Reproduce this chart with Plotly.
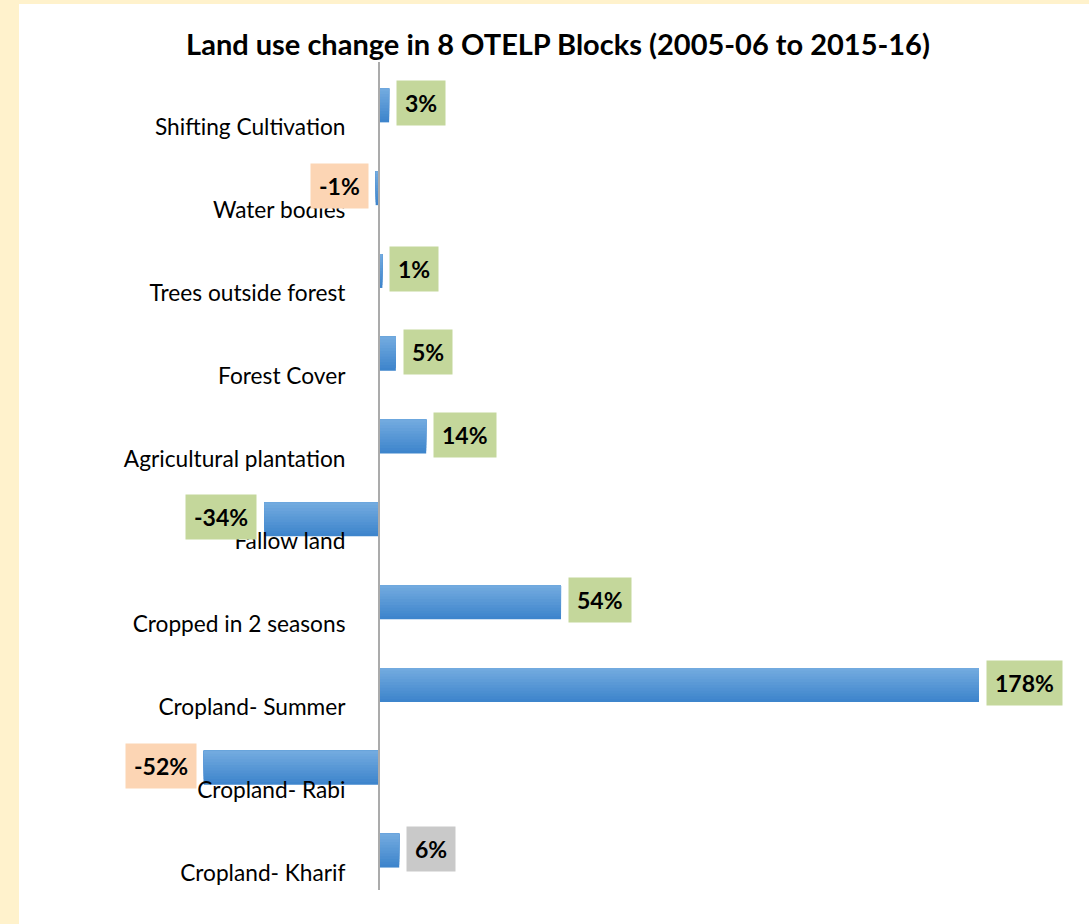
import plotly.graph_objects as go

# Data (bottom to top, as in the reference)
categories = ["Cropland- Kharif", "Cropland- Rabi", "Cropland- Summer",
              "Cropped in 2 seasons", "Fallow land", "Agricultural plantation",
              "Forest Cover", "Trees outside forest", "Water bodies",
              "Shifting Cultivation"]
values = [6, -52, 178, 54, -34, 14, 5, 1, -1, 3]
label_colors = ["#C9C9C9", "#FCD5B4", "#C4D79B", "#C4D79B", "#C4D79B",
                "#C4D79B", "#C4D79B", "#C4D79B", "#FCD5B4", "#C4D79B"]
title_text = "Land use change in 8 OTELP Blocks (2005-06 to 2015-16)"

FONT = "Lato, 'Open Sans', sans-serif"

W, H = 1089, 924
ml, mr, mt, mb = 109, 19, 62, 34
xmin, xmax = -80.1, 205.0

fig = go.Figure()

# bars with a vertical gradient: overlapping layers, darkest/full first,
# progressively shorter (top-aligned) and lighter ones on top
n = 12
bw = 0.41
shift = -0.024
top = (114, 170, 223)
bot = (62, 133, 204)
for j in range(n):
    frac = (n - j) / n
    t = (n - 1 - j) / (n - 1)
    c = tuple(round(top[i] + (bot[i] - top[i]) * t) for i in range(3))
    fig.add_trace(go.Bar(
        y=categories, x=values, orientation="h",
        width=bw * frac, offset=bw / 2 - bw * frac + shift,
        marker=dict(color="rgb(%d,%d,%d)" % c, line=dict(width=0)),
        showlegend=False, hoverinfo="skip"))

for cat, v, col in zip(categories, values, label_colors):
    fig.add_annotation(
        x=v, y=cat, xref="x", yref="y",
        text="<b>%d%%</b>" % v, showarrow=False,
        xanchor="left" if v >= 0 else "right",
        xshift=7 if v >= 0 else -7, yanchor="middle",
        bgcolor=col, borderpad=8,
        font=dict(family=FONT, size=23, color="black"))

# white chart area over cream frame
pw = W - ml - mr
ph = H - mt - mb
fig.add_shape(type="rect", xref="paper", yref="paper",
              x0=(19 - ml) / pw, x1=(W - ml) / pw,
              y0=(H - mb - H) / ph, y1=(H - mb - 4) / ph,
              fillcolor="white", line=dict(width=0), layer="below")

fig.update_layout(
    width=W, height=H,
    margin=dict(l=ml, r=mr, t=mt, b=mb, autoexpand=False),
    paper_bgcolor="#FFF2CC", plot_bgcolor="rgba(0,0,0,0)",
    barmode="overlay",
    title=dict(text="<b>" + title_text + "</b>", x=558 / W, xref="container",
               xanchor="center", y=1 - 45 / H, yref="container", yanchor="middle",
               font=dict(family=FONT, size=29, color="black")),
    xaxis=dict(range=[xmin, xmax], showgrid=False, zeroline=False,
               showticklabels=False, ticks="", showline=False),
    yaxis=dict(type="category", categoryorder="array", categoryarray=categories,
               range=[-0.5, len(categories) - 0.5],
               anchor="free", position=(0 - xmin) / (xmax - xmin),
               showline=True, linecolor="#ABABAB", linewidth=2,
               showgrid=False, zeroline=False, ticks="",
               ticklabelstandoff=28, ticklabelshift=24,
               tickfont=dict(family=FONT, size=22.7, color="black")),
)

fig.write_html("out.html", config={"displayModeBar": False},
               post_script="document.body.style.margin='0';")
